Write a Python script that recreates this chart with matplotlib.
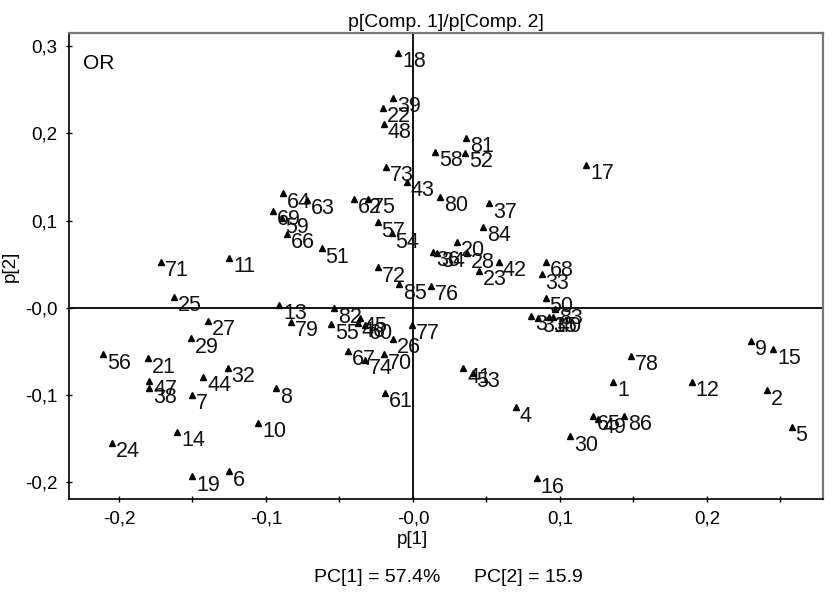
import matplotlib
matplotlib.use("Agg")
import matplotlib.pyplot as plt

plt.rcParams['font.family'] = ['Liberation Sans', 'DejaVu Sans']

# Loadings p[1] / p[2]
labels = [str(i) for i in range(1, 87)]
p1 = [0.1363, 0.2406, 0.0803, 0.0699, 0.2576, -0.1252, -0.1501, -0.0932, 0.2299, -0.1052,
      -0.1252, 0.1896, -0.0910, -0.1603, 0.2451, 0.0841, 0.1177, -0.0102, -0.1501, 0.0297,
      -0.1801, -0.0204, 0.0451, -0.2050, -0.1624, -0.0134, -0.1397, 0.0365, -0.1510, 0.1068,
      0.0850, -0.1261, 0.0876, 0.0165, 0.0927, 0.0134, 0.0517, -0.1794, -0.0136, 0.0954,
      0.0342, 0.0585, -0.0041, -0.1427, -0.0361, -0.0374, -0.1794, -0.0197, 0.1261, 0.0903,
      -0.0621, 0.0354, 0.0406, -0.0145, -0.0558, -0.2107, -0.0240, 0.0150, -0.0893, -0.0327,
      -0.0190, -0.0399, -0.0721, -0.0882, 0.1227, -0.0859, -0.0440, 0.0905, -0.0954, -0.0197,
      -0.1716, -0.0236, -0.0184, -0.0327, -0.0304, 0.0120, -0.0009, 0.1481, -0.0832, 0.0184,
      0.0361, -0.0535, 0.0966, 0.0478, -0.0095, 0.1435]
p2 = [-0.0844, -0.0947, -0.0088, -0.1137, -0.1360, -0.1875, -0.0997, -0.0920, -0.0375, -0.1314,
      0.0576, -0.0844, 0.0034, -0.1417, -0.0473, -0.1951, 0.1638, 0.2921, -0.1932, 0.0759,
      -0.0576, 0.2291, 0.0424, -0.1543, 0.0129, -0.0355, -0.0149, 0.0627, -0.0347, -0.1474,
      -0.0115, -0.0684, 0.0386, 0.0633, -0.0107, 0.0645, 0.1199, -0.0920, 0.2405, -0.0107,
      -0.0691, 0.0530, 0.1443, -0.0787, -0.0115, -0.0172, -0.0836, 0.2108, -0.1271, 0.0118,
      0.0684, 0.1776, -0.0741, 0.0856, -0.0187, -0.0530, 0.0982, 0.1787, 0.1027, -0.0195,
      -0.0970, 0.1249, 0.1237, 0.1314, -0.1234, 0.0848, -0.0493, 0.0530, 0.1115, -0.0530,
      0.0530, 0.0466, 0.1615, -0.0596, 0.1249, 0.0252, -0.0195, -0.0550, -0.0157, 0.1275,
      0.1947, -0.0003, -0.0015, 0.0931, 0.0271, -0.1234]

xticks = [-0.2, -0.1, 0.0, 0.1, 0.2]
xticklabels = ['-0,2', '-0,1', '-0,0', '0,1', '0,2']
yticks = [-0.2, -0.1, 0.0, 0.1, 0.2, 0.3]
yticklabels = ['-0,2', '-0,1', '-0,0', '0,1', '0,2', '0,3']

fig = plt.figure(figsize=(8.32, 5.97), dpi=100)
ax = fig.add_axes([0.0829, 0.1642, 0.9063, 0.7806])

ax.axhline(0, color='black', linewidth=1.3, zorder=1)
ax.axvline(0, color='black', linewidth=1.3, zorder=1)

ax.plot(p1, p2, linestyle='none', marker='^', markersize=4, color='black', zorder=3)
for lab, x, y in zip(labels, p1, p2):
    ax.annotate(lab, (x, y), xytext=(4, -9), textcoords='offset pixels',
                ha='left', va='center', fontsize=15.5, color='#111111', zorder=4)

ax.set_xlim(-0.234, 0.279)
ax.set_ylim(-0.219, 0.315)

ax.set_xticks(xticks)
ax.set_xticklabels(xticklabels)
ax.set_xticks([-0.15, -0.05, 0.05, 0.15, 0.25], minor=True)
ax.set_yticks(yticks)
ax.set_yticklabels(yticklabels)
ax.tick_params(axis='both', which='both', direction='inout', length=5, width=1,
               labelsize=13.5, pad=6)
ax.tick_params(axis='both', which='minor', length=4)

for side in ['left', 'bottom']:
    ax.spines[side].set_color('black')
    ax.spines[side].set_linewidth(1.2)
for side in ['top', 'right']:
    ax.spines[side].set_color('#777777')
    ax.spines[side].set_linewidth(1.6)

ax.text(0.019, 0.935, 'OR', transform=ax.transAxes, fontsize=15, ha='left', va='center')

ax.set_title('p[Comp. 1]/p[Comp. 2]', fontsize=14, pad=4)
ax.set_xlabel('p[1]', fontsize=13.5, labelpad=2)
# x label sits under the zero line, not at the axes centre
ax.xaxis.set_label_coords((0 - (-0.234)) / (0.279 - (-0.234)), -0.068)
ax.set_ylabel('p[2]', fontsize=13.5, labelpad=4)

fig.text(0.453, 0.032, 'PC[1] = 57.4%', fontsize=14, ha='center', va='center')
fig.text(0.635, 0.032, 'PC[2] = 15.9', fontsize=14, ha='center', va='center')

fig.savefig('out.png', dpi=100)
